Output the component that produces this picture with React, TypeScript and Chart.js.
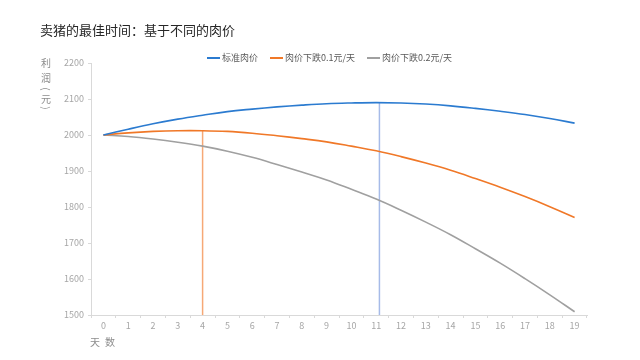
import React, { useEffect, useRef } from "react";
import { Chart, registerables } from "chart.js";

Chart.register(...registerables);

const chartTitle = "卖猪的最佳时间：基于不同的肉价";
const yAxisChars = ["利", "润", "(", "元", ")"];
const xAxisChars = ["天", "数"];

const days = ["0", "1", "2", "3", "4", "5", "6", "7", "8", "9", "10", "11", "12", "13", "14", "15", "16", "17", "18", "19"];

const seriesNames = ["标准肉价", "肉价下跌0.1元/天", "肉价下跌0.2元/天"];
const standardPrice = [2000, 2016, 2031, 2044, 2055, 2065, 2072, 2078, 2083, 2087, 2089, 2090, 2089, 2086, 2081, 2074, 2066, 2057, 2046, 2033];
const priceDrop01 = [2000, 2006, 2010, 2012, 2012, 2010, 2005, 1998, 1990, 1981, 1969, 1956, 1940, 1922, 1902, 1879, 1855, 1829, 1801, 1771];
const priceDrop02 = [2000, 1996, 1989, 1980, 1969, 1955, 1938, 1918, 1897, 1875, 1849, 1822, 1791, 1758, 1723, 1684, 1644, 1601, 1556, 1509];

const yMin = 1500;
const yMax = 2200;
const yStep = 100;

// optimal selling days (vertical markers)
const optimumDays = [4, 11.13];
const optimumProfits = [2012, 2090];

const seriesColors = ["#2b7bd0", "#f07828", "#a0a0a0"];
const optimumColors = ["#f6a876", "#a6bbe8"];

const FONT = "'Noto Sans CJK SC', 'Noto Sans', sans-serif";

const decorPlugin = {
  id: "decor",
  beforeDatasetsDraw(chart: any) {
    const { ctx, scales } = chart;
    const x = scales.x;
    const y = scales.y;
    ctx.save();
    optimumDays.forEach((d, i) => {
      const px = x.getPixelForValue(d);
      ctx.strokeStyle = optimumColors[i];
      ctx.lineWidth = 1.5;
      ctx.beginPath();
      ctx.moveTo(px, y.getPixelForValue(yMin));
      ctx.lineTo(px, y.getPixelForValue(optimumProfits[i]));
      ctx.stroke();
    });
    ctx.restore();
  },
  afterDraw(chart: any) {
    const { ctx, chartArea } = chart;
    ctx.save();
    // title
    ctx.fillStyle = "#262626";
    ctx.font = `13px ${FONT}`;
    ctx.textAlign = "left";
    ctx.textBaseline = "middle";
    ctx.fillText(chartTitle, 40, 30);

    // legend
    ctx.font = `9px ${FONT}`;
    let lx = 207;
    const ly = 58;
    seriesNames.forEach((name, i) => {
      ctx.strokeStyle = seriesColors[i];
      ctx.lineWidth = 2;
      ctx.beginPath();
      ctx.moveTo(lx, ly);
      ctx.lineTo(lx + 13, ly);
      ctx.stroke();
      ctx.fillStyle = "#595959";
      ctx.textAlign = "left";
      ctx.fillText(name, lx + 15, ly);
      lx += 15 + ctx.measureText(name).width + 12;
    });

    // y axis label (vertical, parentheses turned)
    ctx.fillStyle = "#8c8c8c";
    ctx.font = `10px ${FONT}`;
    ctx.textAlign = "center";
    const yPos = [63, 78, 89, 99, 108];
    yAxisChars.forEach((c, i) => {
      if (c === "(" || c === ")") {
        ctx.save();
        ctx.translate(46, yPos[i]);
        ctx.rotate(Math.PI / 2);
        ctx.fillText(c, 0, 0);
        ctx.restore();
      } else {
        ctx.fillText(c, 46, yPos[i]);
      }
    });

    // x axis label
    ctx.textAlign = "center";
    xAxisChars.forEach((c, i) => {
      ctx.fillText(c, chartArea.left + 4 + i * 15, 342);
    });
    ctx.restore();
  },
};

export default function App() {
  const canvasRef = useRef<HTMLCanvasElement | null>(null);

  useEffect(() => {
    const canvas = canvasRef.current;
    if (!canvas) return;
    const data = [standardPrice, priceDrop01, priceDrop02];
    const chart = new Chart(canvas, {
      type: "line",
      data: {
        labels: days,
        datasets: seriesNames.map((name, i) => ({
          label: name,
          data: data[i],
          borderColor: seriesColors[i],
          backgroundColor: seriesColors[i],
          borderWidth: 1.6,
          pointRadius: 0,
          tension: 0.4,
          fill: false,
        })),
      },
      options: {
        responsive: false,
        animation: false,
        layout: { padding: { top: 63, right: 53, bottom: 0, left: 0 } },
        plugins: {
          legend: { display: false },
          title: { display: false },
          tooltip: { enabled: false },
        },
        scales: {
          x: {
            type: "category",
            offset: true,
            grid: {
              display: true,
              offset: true,
              drawOnChartArea: false,
              drawTicks: true,
              tickLength: 3,
              color: "#d9d9d9",
            },
            border: { display: true, color: "#d9d9d9" },
            ticks: {
              color: "#a6a6a6",
              font: { family: FONT, size: 9 },
              padding: 2,
              maxRotation: 0,
              autoSkip: false,
            },
            afterFit: (scale: any) => {
              scale.height = 45;
            },
          },
          y: {
            min: yMin,
            max: yMax,
            grid: {
              display: true,
              drawOnChartArea: false,
              drawTicks: true,
              tickLength: 3,
              color: "#d9d9d9",
            },
            border: { display: true, color: "#d9d9d9" },
            ticks: {
              stepSize: yStep,
              color: "#a6a6a6",
              font: { family: FONT, size: 9 },
              padding: 4,
              callback: (v: any) => String(v),
            },
            afterFit: (scale: any) => {
              scale.width = 91;
            },
          },
        },
      },
      plugins: [decorPlugin],
    });
    return () => chart.destroy();
  }, []);

  return (
    <div style={{ position: "fixed", left: 0, top: 0, width: 640, height: 360, background: "#fff" }}>
      <canvas ref={canvasRef} width={640} height={360} />
    </div>
  );
}
